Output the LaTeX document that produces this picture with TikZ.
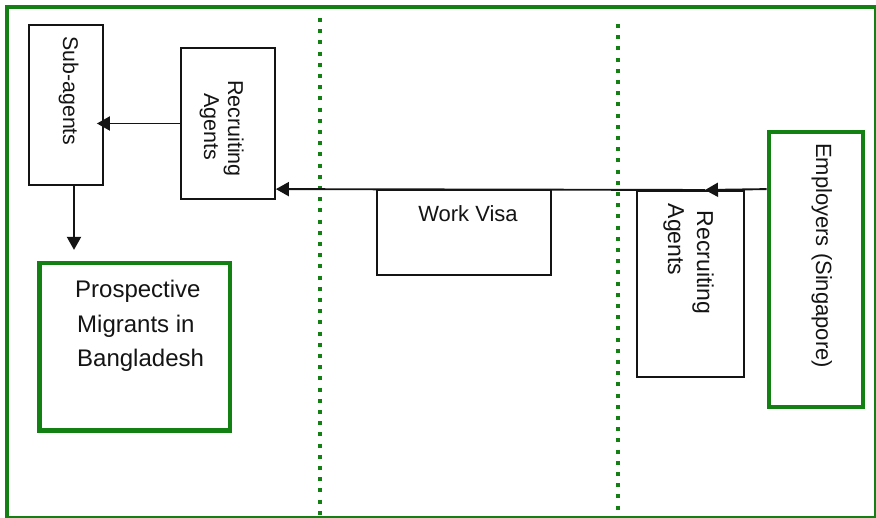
\documentclass[tikz,border=0pt]{standalone}
\usepackage{fontspec}
\setmainfont{Liberation Sans}
\usetikzlibrary{arrows.meta,calc}
\definecolor{fgreen}{RGB}{18,128,18}
\definecolor{ink}{RGB}{20,20,20}
\tikzset{
  x=1pt, y=-1pt,
  thinbox/.style={draw=ink, line width=1.8pt, rectangle, inner sep=0pt, fill=white},
  greenbox/.style={draw=fgreen, line width=4.2pt, rectangle, inner sep=0pt, fill=white},
  arr/.style={draw=ink, line width=1.9pt, -{Triangle[length=13pt,width=14pt]}},
  dotline/.style={draw=fgreen, line width=4pt, dash pattern=on 4pt off 7.2pt},
  lbl/.style={text=ink, inner sep=0pt, font=\fontsize{22}{25}\selectfont},
  vlbl/.style={lbl, rotate=-90, anchor=base},
}
\begin{document}
\begin{tikzpicture}
\useasboundingbox (0,0) rectangle (876,518);
\fill[white] (0,0) rectangle (876,518);
% frame
\draw[fgreen, line width=1.2pt] (875,9) -- (875,518);
\draw[fgreen, line width=1.2pt] (9,517) -- (876,517);
\draw[fgreen, line width=4.2pt] (7,5) -- (7,518);
\draw[fgreen, line width=4.2pt] (5,7) -- (876,7);
% dotted separators
\draw[dotline] (319.5,18) -- (319.5,518);
\draw[dotline] (618,24) -- (618,518);
% boxes
\node[thinbox, minimum width=74pt, minimum height=160pt] (sub) at (66,105) {};
\node[thinbox, minimum width=94pt, minimum height=151pt] (raL) at (228,123.5) {};
\node[greenbox, minimum width=190.5pt, minimum height=167.5pt] (pro) at (134.75,346.75) {};
\node[thinbox, minimum width=174pt, minimum height=85pt] (visa) at (464,232.5) {};
\node[thinbox, minimum width=107pt, minimum height=186pt] (raR) at (690.5,283.8) {};
\node[greenbox, minimum width=94.3pt, minimum height=275.3pt] (emp) at (815.85,269.65) {};
% texts
\node[vlbl, font=\fontsize{21.3}{24}\selectfont] (tsub) at (63,91) {Sub-agents};
\node[vlbl, font=\fontsize{21.5}{24}\selectfont] (traL1) at (228,128.5) {Recruiting};
\node[vlbl, font=\fontsize{21.5}{24}\selectfont] (traL2) at (204,126.5) {Agents};
\node[lbl, anchor=base west, font=\fontsize{24}{28}\selectfont] (tpro1) at (75,298) {Prospective};
\node[lbl, anchor=base west, font=\fontsize{24}{28}\selectfont] (tpro2) at (77,333) {Migrants in};
\node[lbl, anchor=base west, font=\fontsize{24}{28}\selectfont] (tpro3) at (77,367) {Bangladesh};
\node[lbl, anchor=base] (tvisa) at (468,222) {Work Visa};
\node[vlbl, font=\fontsize{23}{26}\selectfont] (traR1) at (697,262.5) {Recruiting};
\node[vlbl, font=\fontsize{23}{26}\selectfont] (traR2) at (668,239.5) {Agents};
\node[vlbl] (temp) at (816,255.5) {Employers (Singapore)};
% connectors
\coordinate (mid) at (705,190);
\draw[arr] (emp.west |- visa.north) -- (mid);
\draw[arr] (mid) -- (raL.east |- visa.north);
\draw[arr] (raL.west) -- ($(sub.east |- raL.west)+(-7,0)$);
\coordinate (dtop) at ($(sub.south)+(8,0)$);
\draw[arr, shorten >=11pt] (dtop) -- (dtop |- pro.north);
\end{tikzpicture}
\end{document}
